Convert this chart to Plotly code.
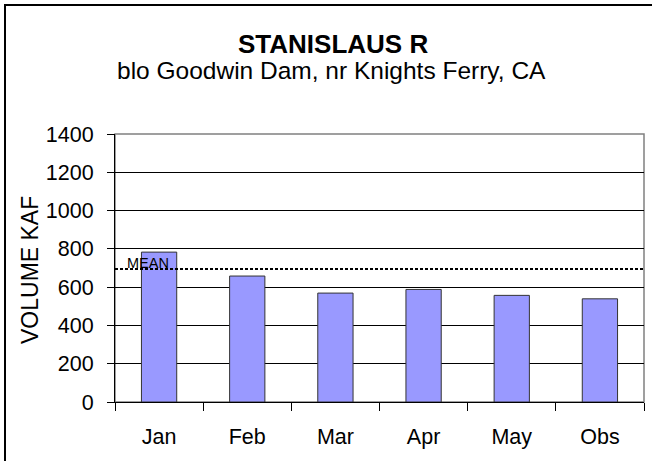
import plotly.graph_objects as go

categories = ["Jan", "Feb", "Mar", "Apr", "May", "Obs"]
volumes = [783, 658, 569, 588, 557, 539]
mean_value = 695
y_ticks = [0, 200, 400, 600, 800, 1000, 1200, 1400]

W, H = 652, 461
L, R, T, B = 115, 8, 134, 59
pw, ph = W - L - R, H - T - B

def px_x(x):
    return (x - L) / pw

def px_y(y):
    return (H - B - y) / ph

FONT = "Liberation Sans, Arial, sans-serif"

fig = go.Figure()
fig.add_trace(go.Bar(
    x=categories, y=volumes, width=0.4,
    marker=dict(color="#9999FF", line=dict(color="#333333", width=1)),
    showlegend=False, hoverinfo="x+y",
))

fig.update_layout(
    width=W, height=H,
    margin=dict(l=L, r=R, t=T, b=B, autoexpand=False),
    paper_bgcolor="white", plot_bgcolor="white",
    font=dict(family=FONT, color="black", size=21.5),
    xaxis=dict(
        type="category", showgrid=False, ticks="outside", tickson="boundaries",
        ticklen=8, tickcolor="black", showline=True, linecolor="black", linewidth=1,
        tickfont=dict(size=21.5), zeroline=False, ticklabelstandoff=15,
    ),
    yaxis=dict(
        range=[0, 1400], tickvals=y_ticks, ticks="outside", ticklen=7,
        tickcolor="black", showline=True, linecolor="black", linewidth=1,
        showgrid=True, gridcolor="black", gridwidth=1, zeroline=False,
        tickfont=dict(size=21.5), ticklabelstandoff=9,
    ),
    shapes=[
        # plot area border (gray)
        dict(type="rect", xref="paper", yref="paper", x0=0, x1=1, y0=0, y1=1,
             line=dict(color="#808080", width=1.5), layer="below"),
        # outer chart border
        dict(type="rect", xref="paper", yref="paper",
             x0=px_x(5), x1=px_x(720), y0=px_y(520), y1=px_y(5),
             line=dict(color="black", width=2)),
        # mean line
        dict(type="line", xref="paper", yref="y", x0=0, x1=1,
             y0=mean_value, y1=mean_value,
             line=dict(color="black", width=2, dash="3px,2px")),
    ],
    annotations=[
        dict(text="<b>STANISLAUS R</b>", xref="paper", yref="paper",
             x=px_x(333), y=px_y(44), showarrow=False, font=dict(size=26),
             xanchor="center", yanchor="middle"),
        dict(text="blo Goodwin Dam, nr Knights Ferry, CA", xref="paper", yref="paper",
             x=px_x(331), y=px_y(70), showarrow=False, font=dict(size=24.5),
             xanchor="center", yanchor="middle"),
        dict(text="VOLUME KAF", xref="paper", yref="paper", textangle=-90,
             x=px_x(30), y=px_y(270), showarrow=False, font=dict(size=23),
             xanchor="center", yanchor="middle"),
        dict(text="MEAN", xref="paper", yref="y", x=px_x(125), y=mean_value,
             showarrow=False, font=dict(size=14.5), xanchor="left", yanchor="bottom",
             yshift=-4),
    ],
)

fig.write_html("out.html", config={"displayModeBar": False},
               post_script="document.body.style.margin='0';")
